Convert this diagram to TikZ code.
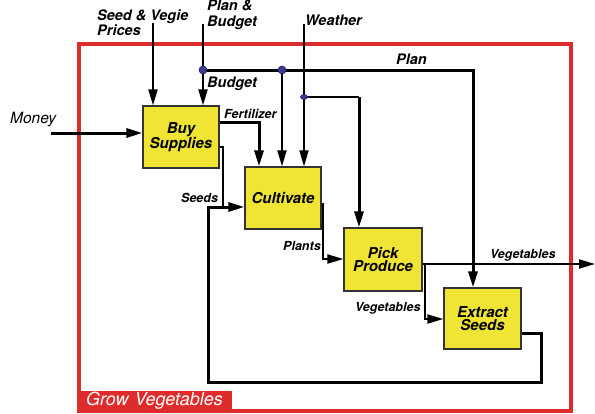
\documentclass[tikz,border=0pt]{standalone}
\usepackage{fontspec}
\setmainfont{TeX Gyre Heros}
\usetikzlibrary{arrows.meta,shapes.geometric}
\definecolor{boxyellow}{RGB}{240,228,52}
\definecolor{framered}{RGB}{222,44,44}
\definecolor{dotblue}{RGB}{58,58,150}
\begin{document}
\begin{tikzpicture}[x=1pt,y=-1pt,
  proc/.style={draw=black!80, line width=1.2pt, fill=boxyellow,
    font=\fontsize{15}{13.5}\selectfont\bfseries\itshape, align=center,
    minimum width=76pt, minimum height=62pt, inner sep=0pt},
  lbl/.style={font=\fontsize{12.5}{13}\selectfont\bfseries\itshape, inner sep=0pt, anchor=base west},
  toplbl/.style={font=\fontsize{14.5}{15.5}\selectfont\bfseries\itshape, inner sep=0pt, align=left},
  tip/.style={-{Triangle[length=16pt,width=9pt]}},
  heavy/.style={line width=3pt},
  medium/.style={line width=2pt},
  light/.style={line width=1.4pt},
  junction/.style={circle, fill=dotblue, draw=dotblue!60!black, line width=0.6pt,
    minimum size=8pt, inner sep=0pt},
  smalljunction/.style={ellipse, fill=dotblue, draw=dotblue!60!black, line width=0.6pt,
    minimum width=7pt, minimum height=5pt, inner sep=0pt}
]
\useasboundingbox (0,0) rectangle (595,413);

% outer activity boundary
\draw[framered, line width=4pt] (79,44) rectangle (571,411);
\node[fill=framered, text=white, anchor=south west, minimum width=151pt, minimum height=20pt,
  inner sep=0pt, font=\fontsize{18}{18}\selectfont\itshape, text width=147pt, align=left]
  (title) at (81,411) {\hspace*{3pt}Grow Vegetables};

% activities
\node[proc] (buy)  at (181,137)   {Buy\\Supplies};
\node[proc] (cult) at (283,198)   {Cultivate};
\node[proc, minimum width=78pt, minimum height=63pt] (pick) at (383,259.5) {Pick\\Produce};
\node[proc, minimum width=77pt, minimum height=61pt] (ext)  at (482.5,318.5) {Extract\\Seeds};

% routing points
\coordinate (moneyin) at (51,133);
\coordinate (seedin) at (153,23);
\coordinate (pbin) at (203,24);
\coordinate (wxin) at (304,24);
\coordinate (j1pos) at (203,70);
\coordinate (j2pos) at (282,70);
\coordinate (j3pos) at (304,97);
\coordinate (plancorner) at (473,70);
\coordinate (wxcorner) at (359,97);
\coordinate (fertcorner) at (259,122);
\coordinate (seedcorner) at (223,147);
\coordinate (seedjoin) at (223,207);
\coordinate (loopA) at (541,333);
\coordinate (loopB) at (541,382);
\coordinate (loopC) at (208,382);
\coordinate (loopD) at (208,207);
\coordinate (plantsA) at (323,204);
\coordinate (plantsB) at (323,259);
\coordinate (vegout) at (595,264);
\coordinate (vegA) at (425,264);
\coordinate (vegB) at (425,319);

% inputs and controls
\draw[heavy,tip] (moneyin) -- (moneyin -| buy.west);
\draw[medium,tip] (seedin) -- (seedin |- buy.north);
\draw[medium,tip] (pbin) -- (pbin |- buy.north);
\draw[heavy,tip] (j1pos) -- (plancorner) -- (plancorner |- ext.north);
\draw[medium,tip] (j2pos) -- (j2pos |- cult.north);
\draw[light,tip] (wxin) -- (wxin |- cult.north);
\draw[light] (j3pos) -- (wxcorner);
\draw[heavy,tip] (wxcorner) -- (wxcorner |- pick.north);

% flows between activities
\draw[heavy,tip] (fertcorner -| buy.east) -- (fertcorner) -- (fertcorner |- cult.north);
\draw[light] (seedcorner -| buy.east) -- (seedcorner) -- (seedjoin);
\draw[heavy,tip] (loopA -| ext.east) -- (loopA) -- (loopB) -- (loopC) -- (loopD) -- (loopD -| cult.west);
\draw[medium,tip] (plantsA -| cult.east) -- (plantsA) -- (plantsB) -- (plantsB -| pick.west);
\draw[medium,tip] (vegout -| pick.east) -- (vegout);
\draw[medium,tip] (vegA) -- (vegB) -- (vegB -| ext.west);

% branch points
\node[junction] (j1) at (j1pos) {};
\node[junction] (j2) at (j2pos) {};
\node[smalljunction] (j3) at (j3pos) {};

% labels
\node[toplbl, anchor=north west] (seedlbl) at (97,9.5) {Seed \& Vegie\\Prices};
\node[toplbl, anchor=north west] (pblbl) at (207,0) {Plan \&\\Budget};
\node[toplbl, anchor=base west] (wxlbl) at (305,25) {Weather};
\node[toplbl, anchor=base west] (budgetlbl) at (207,87) {Budget};
\node[toplbl, anchor=base west] (planlbl) at (396,64) {Plan};
\node[anchor=base west, inner sep=0pt, font=\fontsize{15.5}{16}\selectfont\itshape] (moneylbl) at (10,123) {Money};
\node[lbl] (fertlbl) at (224,118) {Fertilizer};
\node[lbl] (seedslbl) at (181,202) {Seeds};
\node[lbl] (plantslbl) at (283,250) {Plants};
\node[lbl] (vegoutlbl) at (490,258) {Vegetables};
\node[lbl] (veginlbl) at (355,311) {Vegetables};
\end{tikzpicture}
\end{document}
